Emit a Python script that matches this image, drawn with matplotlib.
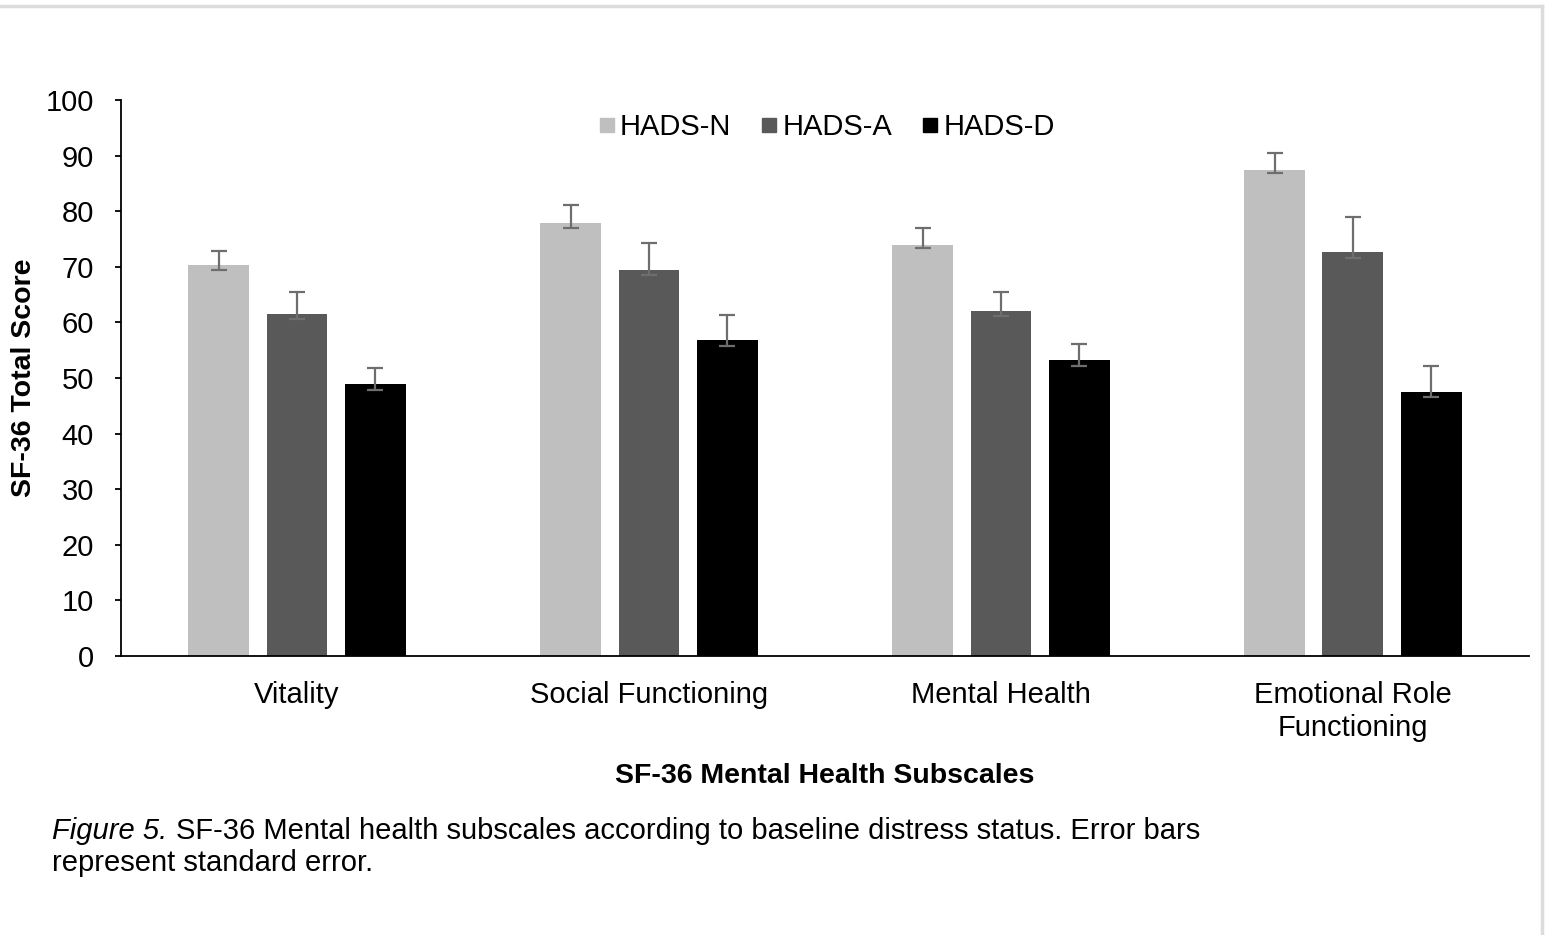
import numpy as np
import matplotlib.pyplot as plt
from matplotlib.lines import Line2D

plt.rcParams['font.family'] = ['Liberation Sans', 'DejaVu Sans']

# SF-36 subscale means per HADS group, with standard error (upper / lower arms)
subscales = ["Vitality", "Social Functioning", "Mental Health", "Emotional Role\nFunctioning"]
groups = ["HADS-N", "HADS-A", "HADS-D"]
hads_n = [70.4, 77.9, 74.0, 87.5]
hads_a = [61.6, 69.5, 62.1, 72.6]
hads_d = [48.9, 56.8, 53.2, 47.5]
se_up_n = [2.5, 3.3, 2.9, 2.9]
se_up_a = [3.8, 4.7, 3.4, 6.4]
se_up_d = [2.9, 4.6, 3.0, 4.7]
se_lo_n = [1.0, 1.0, 0.7, 0.6]
se_lo_a = [1.0, 1.0, 1.0, 1.0]
se_lo_d = [1.1, 1.0, 1.0, 1.0]

colors = ["#bfbfbf", "#595959", "#000000"]
fs = 21

fig = plt.figure(figsize=(15.45, 9.35), dpi=100)
ax = fig.add_axes([0.0783, 0.2984, 0.9113, 0.5946])

x = np.arange(len(subscales))
width = 0.173
step = 0.222
series = [(hads_n, se_lo_n, se_up_n), (hads_a, se_lo_a, se_up_a), (hads_d, se_lo_d, se_up_d)]
for i, (vals, lo, up) in enumerate(series):
    pos = x + (i - 1) * step
    ax.bar(pos, vals, width, color=colors[i], label=groups[i], zorder=2)
    ax.errorbar(pos, vals, yerr=[lo, up], fmt="none", ecolor="#6e6e6e",
                elinewidth=1.6, capsize=6, capthick=1.6, zorder=3)

ax.set_xlim(-0.5, len(subscales) - 0.5)
ax.set_ylim(0, 100)
ax.set_yticks(range(0, 101, 10))
ax.set_xticks(x)
ax.set_xticklabels(subscales, fontsize=fs, linespacing=1.25)
ax.tick_params(axis="y", labelsize=fs, length=4.5, width=1.3, direction="out", pad=15)
ax.tick_params(axis="x", length=0, pad=18)
for s in ["top", "right"]:
    ax.spines[s].set_visible(False)
ax.spines["left"].set_linewidth(1.3)
ax.spines["bottom"].set_linewidth(1.3)

ax.set_ylabel("SF-36 Total Score", fontsize=20.5, fontweight="bold", labelpad=6)
ax.set_xlabel("SF-36 Mental Health Subscales", fontsize=20.5, fontweight="bold", labelpad=15)

handles = [Line2D([], [], marker="s", linestyle="none", markersize=10,
                  markerfacecolor=c, markeredgecolor=c) for c in colors]
ax.legend(handles, groups, loc="upper center", bbox_to_anchor=(0.5, 1.024),
          ncol=3, frameon=False, fontsize=fs, handletextpad=0.05,
          columnspacing=0.9, handlelength=0.8)

# caption below the chart
cap_fs = 21
cap_y = 1 - 831 / 935
t = fig.text(0.0337, cap_y, "Figure 5.", fontsize=cap_fs, va="center", style="italic")
fig.canvas.draw()
bb = t.get_window_extent()
fig.text((bb.x1 + 9) / fig.bbox.width, cap_y,
         "SF-36 Mental health subscales according to baseline distress status. Error bars",
         fontsize=cap_fs, va="center")
fig.text(0.0337, 1 - 863 / 935, "represent standard error.", fontsize=cap_fs, va="center")

# thin page border along the top and right edges
fig.add_artist(Line2D([0, 1542 / 1545], [1 - 6 / 935, 1 - 6 / 935], color="#dcdcdc", lw=2.5))
fig.add_artist(Line2D([1542 / 1545, 1542 / 1545], [0, 1 - 6 / 935], color="#dcdcdc", lw=2.5))

fig.savefig("out.png", dpi=100)
